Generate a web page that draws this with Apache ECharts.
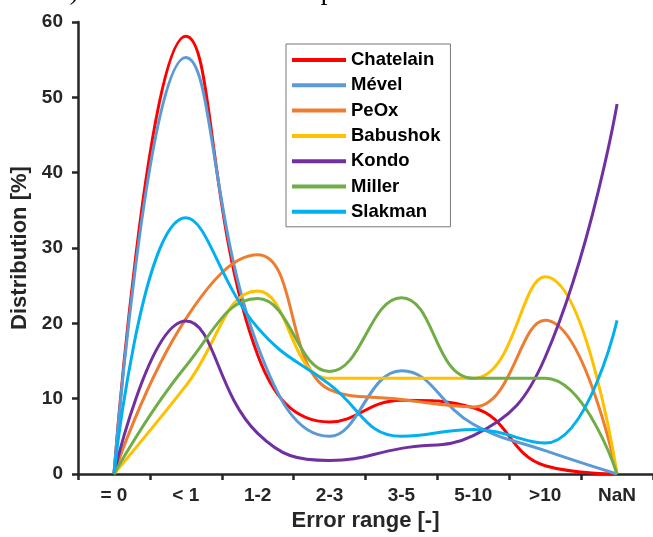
<!DOCTYPE html>
<html>
<head>
<meta charset="utf-8">
<script src="https://cdn.jsdelivr.net/npm/echarts@6/dist/echarts.min.js"></script>
<style>
html,body{margin:0;padding:0;background:#fff;}
#chart{width:653px;height:537px;}
</style>
</head>
<body>
<div id="chart"></div>
<script>
var categories = ['= 0', '< 1', '1-2', '2-3', '3-5', '5-10', '>10', 'NaN'];
var chatelain = [0, 58.1, 15.8, 6.9, 9.8, 8.8, 1.1, 0];
var mevel     = [0, 55.3, 17.0, 5.0, 13.7, 6.6, 3.1, 0];
var peox      = [0, 20.6, 29.1, 11.2, 9.9, 8.9, 20.4, 0];
var babushok  = [0, 11.7, 24.3, 12.7, 12.7, 12.7, 26.2, 0];
var kondo     = [0, 20.3, 5.4, 1.8, 3.4, 5.1, 15.5, 49.1];
var miller    = [0, 14.3, 23.3, 13.6, 23.4, 12.7, 12.7, 0];
var slakman   = [0, 34.0, 19.4, 11.9, 5.0, 5.9, 4.1, 20.4];

var seriesNames = ['Chatelain', 'Mével', 'PeOx', 'Babushok', 'Kondo', 'Miller', 'Slakman'];
var seriesData = [chatelain, mevel, peox, babushok, kondo, miller, slakman];
var colors = ['#FF0000', '#5B9BD5', '#ED7D31', '#FFC000', '#7030A0', '#70AD47', '#00B0F0'];

var FONT = '"Liberation Sans", Arial, Helvetica, sans-serif';
var AX = '#262626';

var chart = echarts.init(document.getElementById('chart'), null, {renderer: 'canvas'});
chart.setOption({
  animation: false,
  color: colors,
  grid: {left: 78, top: 22, width: 580, height: 458, containLabel: false},
  graphic: [{
    type: 'text',
    left: 'center',
    top: -22,
    style: {
      text: 'a) Global and the error spectra of the SMC values',
      font: '27px "Liberation Serif", "Times New Roman", serif',
      fill: '#000'
    }
  }],
  legend: {
    orient: 'vertical',
    left: 286,
    top: 44,
    icon: 'rect',
    itemWidth: 54,
    itemHeight: 4,
    itemGap: 5.3,
    padding: [6, 10, 5, 6],
    borderColor: '#777',
    borderWidth: 1,
    backgroundColor: '#fff',
    textStyle: {fontFamily: FONT, fontWeight: 'bold', fontSize: 18.5, color: '#000', lineHeight: 20, padding: [0, 0, 0, 0]},
    data: seriesNames
  },
  xAxis: {
    type: 'category',
    data: categories,
    boundaryGap: true,
    name: 'Error range [-]',
    nameLocation: 'middle',
    nameGap: 36,
    nameTextStyle: {fontFamily: FONT, fontWeight: 'bold', fontSize: 22, color: AX},
    axisLine: {show: true, lineStyle: {color: AX, width: 2.5}},
    axisTick: {show: true, inside: false, length: 6, lineStyle: {color: AX, width: 2.5}},
    axisLabel: {fontFamily: FONT, fontWeight: 'bold', fontSize: 19, color: AX, margin: 12},
    splitLine: {show: false}
  },
  yAxis: {
    type: 'value',
    min: 0,
    max: 60,
    interval: 10,
    name: 'Distribution [%]',
    nameLocation: 'middle',
    nameGap: 44,
    nameTextStyle: {fontFamily: FONT, fontWeight: 'bold', fontSize: 22, color: AX},
    axisLine: {show: true, lineStyle: {color: AX, width: 2.5}},
    axisTick: {show: true, inside: false, length: 6, lineStyle: {color: AX, width: 2.5}},
    axisLabel: {fontFamily: FONT, fontWeight: 'bold', fontSize: 19, color: AX, margin: 15},
    splitLine: {show: false}
  },
  series: seriesNames.map(function (n, i) {
    return {
      name: n,
      type: 'line',
      data: seriesData[i],
      smooth: 0.45,
      symbol: 'none',
      lineStyle: {width: 3, color: colors[i]},
      itemStyle: {color: colors[i]}
    };
  })
});
</script>
</body>
</html>
